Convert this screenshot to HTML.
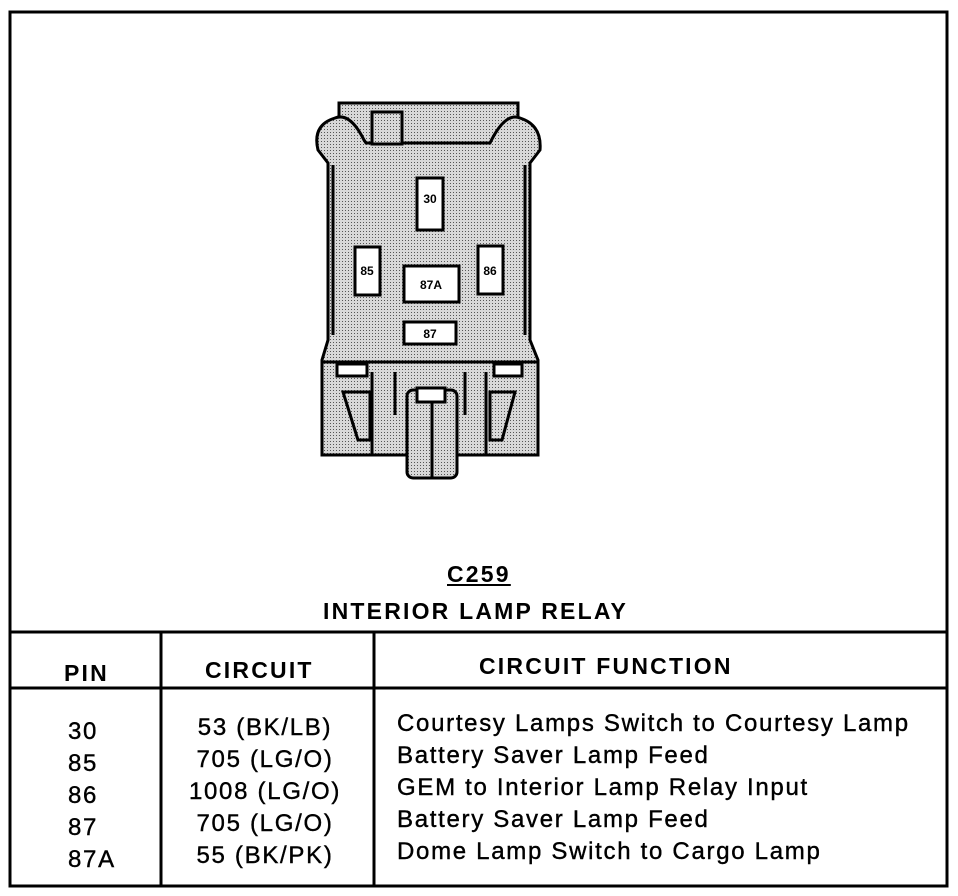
<!DOCTYPE html>
<html><head><style>
body{margin:0;background:#fff;width:958px;height:896px;position:relative;overflow:hidden;font-family:"Liberation Sans",Arial,sans-serif;font-weight:bold;color:#000}
.t{position:absolute;white-space:nowrap;font-size:23px;letter-spacing:2.2px}
.n{font-weight:normal;font-size:24px;letter-spacing:1.7px;line-height:32px;-webkit-text-stroke:0.4px #000}
</style></head><body>
<svg width="958" height="896" style="position:absolute;left:0;top:0">
<defs><pattern id="d" width="3" height="3" patternUnits="userSpaceOnUse"><rect width="3" height="3" fill="#d8d8d8"/><rect width="1" height="1" fill="#555"/></pattern></defs>
<g fill="none" stroke="#000" stroke-width="3">
<rect x="10" y="12" width="937" height="874"/>
<line x1="10" y1="632" x2="947" y2="632"/>
<line x1="10" y1="688" x2="947" y2="688"/>
<line x1="161" y1="632" x2="161" y2="886"/>
<line x1="374" y1="632" x2="374" y2="886"/>
</g>
<g stroke="#000" stroke-width="3" fill="url(#d)">
<rect x="339" y="103" width="179" height="45"/>
<path d="M335 118 Q350 112 364 140 L366 143 L490 143 Q505 112 520 118 Q542 125 540 150 L530 163 L530 340 L538 360 L538 455 L322 455 L322 360 L328 340 L328 163 L318 150 Q312 125 335 118Z"/>
<rect x="407" y="390" width="50" height="88" rx="6"/>
<rect x="372" y="112" width="30" height="32"/>
</g>
<g stroke="#000" stroke-width="3" fill="none">
<line x1="333" y1="165" x2="333" y2="335"/><line x1="525" y1="165" x2="525" y2="335"/>
<line x1="322" y1="362" x2="538" y2="362"/>
<path d="M343 392 L370 392 L370 440 L358 440Z"/>
<path d="M515 392 L490 392 L490 440 L502 440Z"/>
<line x1="372" y1="372" x2="372" y2="455"/><line x1="486" y1="372" x2="486" y2="455"/>
<line x1="395" y1="372" x2="395" y2="415"/><line x1="465" y1="372" x2="465" y2="415"/>
<line x1="432" y1="400" x2="432" y2="478"/>
</g>
<g stroke="#000" stroke-width="3" fill="#fff">
<rect x="337" y="364" width="30" height="12"/><rect x="494" y="364" width="28" height="12"/>
<rect x="417" y="388" width="28" height="14"/>
<rect x="417" y="178" width="26" height="52"/>
<rect x="355" y="247" width="25" height="48"/>
<rect x="478" y="246" width="25" height="48"/>
<rect x="404" y="266" width="55" height="36"/>
<rect x="404" y="322" width="52" height="22"/>
</g>
<g font-family="Liberation Sans,Arial" font-weight="bold" font-size="12" text-anchor="middle">
<text x="430" y="203">30</text><text x="367" y="275">85</text><text x="490" y="275">86</text>
<text x="431" y="289">87A</text><text x="430" y="338">87</text>
</g>
</svg>
<div class="t" style="left:447px;top:561px;text-decoration:underline">C259</div>
<div class="t" style="left:323px;top:598px">INTERIOR LAMP RELAY</div>
<div class="t" style="left:64px;top:660px">PIN</div>
<div class="t" style="left:205px;top:657px">CIRCUIT</div>
<div class="t" style="left:479px;top:653px">CIRCUIT FUNCTION</div>
<div class="t n" style="left:68px;top:716px">30<br>85<br>86<br>87<br>87A</div>
<div class="t n" style="left:185px;top:712px;text-align:center;width:160px">53 (BK/LB)<br>705 (LG/O)<br>1008 (LG/O)<br>705 (LG/O)<br>55 (BK/PK)</div>
<div class="t n" style="left:397px;top:708px">Courtesy Lamps Switch to Courtesy Lamp<br>Battery Saver Lamp Feed<br>GEM to Interior Lamp Relay Input<br>Battery Saver Lamp Feed<br>Dome Lamp Switch to Cargo Lamp</div>
</body></html>
